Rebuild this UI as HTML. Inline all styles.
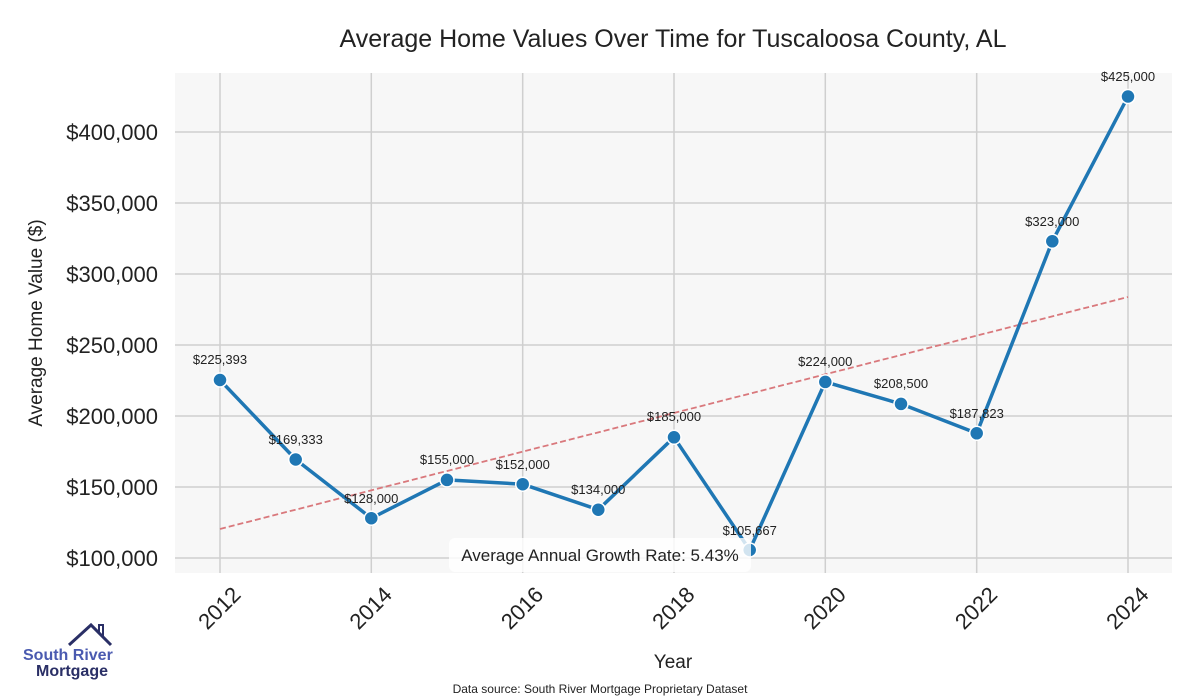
<!DOCTYPE html>
<html><head><meta charset="utf-8"><style>
body{margin:0;background:#fff;}
svg{display:block;font-family:"Liberation Sans",sans-serif;}
</style></head><body>
<svg width="1200" height="700" viewBox="0 0 1200 700">
<rect x="175" y="73" width="997" height="500" fill="#f7f7f7"/>
<g stroke="#cfcfcf" stroke-width="1.5">
<line x1="220" y1="73" x2="220" y2="573"/><line x1="371.3" y1="73" x2="371.3" y2="573"/>
<line x1="522.7" y1="73" x2="522.7" y2="573"/><line x1="674" y1="73" x2="674" y2="573"/>
<line x1="825.3" y1="73" x2="825.3" y2="573"/><line x1="976.7" y1="73" x2="976.7" y2="573"/>
<line x1="1128" y1="73" x2="1128" y2="573"/>
<line x1="175" y1="132" x2="1172" y2="132"/><line x1="175" y1="203" x2="1172" y2="203"/>
<line x1="175" y1="274" x2="1172" y2="274"/><line x1="175" y1="345" x2="1172" y2="345"/>
<line x1="175" y1="416" x2="1172" y2="416"/><line x1="175" y1="487" x2="1172" y2="487"/>
<line x1="175" y1="558" x2="1172" y2="558"/>
</g>
<line x1="220" y1="529" x2="1128" y2="297" stroke="#d9787c" stroke-width="1.8" stroke-dasharray="6,3"/>
<polyline fill="none" stroke="#1f77b4" stroke-width="3.5" stroke-linejoin="round" points="220,380 295.7,459.5 371.3,518.2 447,479.9 522.7,484.2 598.3,509.7 674,437.3 749.7,550 825.3,381.9 901,403.9 976.7,433.3 1052.3,241.3 1128,96.5"/>
<g fill="#1f77b4" stroke="#fff" stroke-width="1.5">
<circle cx="220" cy="380" r="7"/><circle cx="295.7" cy="459.5" r="7"/><circle cx="371.3" cy="518.2" r="7"/><circle cx="447" cy="479.9" r="7"/><circle cx="522.7" cy="484.2" r="7"/><circle cx="598.3" cy="509.7" r="7"/><circle cx="674" cy="437.3" r="7"/><circle cx="749.7" cy="550" r="7"/><circle cx="825.3" cy="381.9" r="7"/><circle cx="901" cy="403.9" r="7"/><circle cx="976.7" cy="433.3" r="7"/><circle cx="1052.3" cy="241.3" r="7"/><circle cx="1128" cy="96.5" r="7"/>
</g>
<g font-size="13" fill="#222" text-anchor="middle">
<text x="220" y="364">$225,393</text><text x="295.7" y="444">$169,333</text><text x="371.3" y="503">$128,000</text><text x="447" y="464">$155,000</text><text x="522.7" y="469">$152,000</text><text x="598.3" y="494">$134,000</text><text x="674" y="421">$185,000</text><text x="749.7" y="535">$105,667</text><text x="825.3" y="366">$224,000</text><text x="901" y="388">$208,500</text><text x="976.7" y="418">$187,823</text><text x="1052.3" y="226">$323,000</text><text x="1128" y="81">$425,000</text>
</g>
<rect x="449" y="538" width="302" height="34" rx="6" fill="#fff" fill-opacity="0.8"/>
<text x="600" y="561" font-size="17" fill="#222" text-anchor="middle">Average Annual Growth Rate: 5.43%</text>
<g font-size="22" fill="#222" text-anchor="end">
<text x="158" y="140">$400,000</text><text x="158" y="211">$350,000</text><text x="158" y="282">$300,000</text><text x="158" y="353">$250,000</text><text x="158" y="424">$200,000</text><text x="158" y="495">$150,000</text><text x="158" y="566">$100,000</text>
</g>
<g font-size="22" fill="#222" text-anchor="end">
<text transform="translate(242,596) rotate(-45)">2012</text>
<text transform="translate(393.3,596) rotate(-45)">2014</text>
<text transform="translate(544.7,596) rotate(-45)">2016</text>
<text transform="translate(696,596) rotate(-45)">2018</text>
<text transform="translate(847.3,596) rotate(-45)">2020</text>
<text transform="translate(998.7,596) rotate(-45)">2022</text>
<text transform="translate(1150,596) rotate(-45)">2024</text>
</g>
<text x="673" y="668" font-size="19" fill="#222" text-anchor="middle">Year</text>
<text transform="translate(42,323) rotate(-90)" font-size="19" fill="#222" text-anchor="middle">Average Home Value ($)</text>
<text x="673" y="47" font-size="25" fill="#222" text-anchor="middle">Average Home Values Over Time for Tuscaloosa County, AL</text>
<text x="600" y="693" font-size="12" fill="#222" text-anchor="middle">Data source: South River Mortgage Proprietary Dataset</text>
<polyline points="69,645 91,625 111,645" fill="none" stroke="#2a2f66" stroke-width="3"/>
<polyline points="99,634 99,625 103,625 103,638" fill="none" stroke="#2a2f66" stroke-width="2"/>
<text x="23" y="660" font-size="16" font-weight="bold" fill="#4a5ab0">South River</text>
<text x="36" y="676" font-size="16" font-weight="bold" fill="#2a2f66">Mortgage</text>
</svg>
</body></html>
